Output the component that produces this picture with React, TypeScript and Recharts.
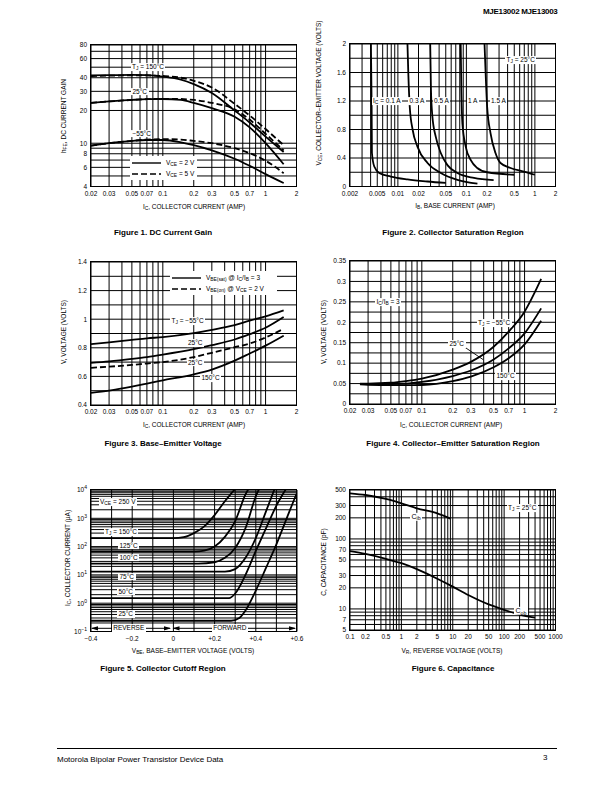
import React from 'react';
import { LineChart, Line, XAxis, YAxis, CartesianGrid } from 'recharts';

const FONT = '"Liberation Sans", Arial, Helvetica, sans-serif';

// Figure 1 - DC current gain (hFE vs IC)
const gainIc = [0.02, 0.03, 0.05, 0.07, 0.1, 0.15, 0.2, 0.3, 0.5, 0.7, 1, 1.5];
const gain150Vce2 = [42, 42.2, 42.5, 42.2, 41, 38.5, 35, 29, 20, 15.5, 11.5, 8.3];
const gain150Vce5 = [41.5, 41.8, 42, 42, 41.5, 40, 37.5, 32.5, 23, 18, 13.5, 9.6];
const gain25Vce2 = [23.5, 24.2, 25, 25.4, 25.5, 25, 23.5, 21, 17.5, 14, 10, 6.4];
const gain25Vce5 = [23.5, 24.2, 25, 25.4, 25.6, 25.5, 25, 23.5, 20.5, 16.5, 12.2, 8.6];
const gainM55Vce2 = [9.5, 10, 10.5, 10.7, 10.7, 10.2, 9.6, 8.6, 7.2, 6.2, 5.2, 4.3];
const gainM55Vce5 = [9.5, 10, 10.5, 10.8, 10.9, 10.8, 10.5, 10, 9, 8.1, 6.9, 5.3];
const icLabels = [0.02, 0.03, 0.05, 0.07, 0.1, 0.2, 0.3, 0.5, 0.7, 1, 2];
const gainLabels = [4, 6, 8, 10, 20, 30, 40, 60, 80];

// Figure 2 - collector saturation region (VCE vs IB)
const sat01Ib = [0.00404, 0.00414, 0.00418, 0.00452, 0.00534, 0.00789, 0.0138, 0.0271, 0.05];
const sat01Vce = [2.0, 1.12, 0.47, 0.28, 0.19, 0.14, 0.1, 0.07, 0.05];
const sat03Ib = [0.0138, 0.0142, 0.0149, 0.0164, 0.0193, 0.0271, 0.0423, 0.0739, 0.145];
const sat03Vce = [2.0, 1.59, 1.12, 0.8, 0.56, 0.33, 0.19, 0.094, 0.04];
const sat05Ib = [0.0296, 0.0304, 0.0319, 0.0357, 0.0423, 0.0529, 0.0739, 0.129, 0.25];
const sat05Vce = [2.0, 1.36, 0.98, 0.7, 0.47, 0.3, 0.19, 0.12, 0.09];
const sat1Ib = [0.0826, 0.0845, 0.0874, 0.0978, 0.116, 0.144, 0.201, 0.5];
const sat1Vce = [2.0, 1.36, 0.89, 0.56, 0.37, 0.26, 0.2, 0.165];
const sat15Ib = [0.184, 0.191, 0.201, 0.225, 0.266, 0.315, 0.442, 0.69, 1.0];
const sat15Vce = [2.0, 1.59, 1.12, 0.75, 0.47, 0.33, 0.26, 0.21, 0.165];
const ibLabels = [0.002, 0.005, 0.01, 0.02, 0.05, 0.1, 0.2, 0.5, 1, 2];
const vceLabels = [0, 0.4, 0.8, 1.2, 1.6, 2];

// Figure 3 - base-emitter voltage
const vbeIc = [0.02, 0.03, 0.05, 0.07, 0.1, 0.2, 0.3, 0.5, 0.7, 1, 1.5];
const vbeSatM55 = [0.825, 0.838, 0.855, 0.866, 0.875, 0.903, 0.925, 0.958, 0.99, 1.02, 1.062];
const vbeSat25 = [0.695, 0.705, 0.722, 0.735, 0.752, 0.79, 0.818, 0.858, 0.895, 0.94, 1.015];
const vbeOn25 = [0.66, 0.668, 0.68, 0.69, 0.7, 0.735, 0.765, 0.804, 0.83, 0.872, 0.933];
const vbeSat150 = [0.485, 0.5, 0.528, 0.55, 0.572, 0.615, 0.648, 0.71, 0.76, 0.815, 0.885];
const vbeLabels = [0.4, 0.6, 0.8, 1, 1.2, 1.4];

// Figure 4 - collector-emitter saturation
const vceIc = [0.025, 0.03, 0.05, 0.07, 0.1, 0.2, 0.3, 0.5, 0.7, 1, 1.45];
const vceSatM55 = [0.05, 0.05, 0.052, 0.056, 0.062, 0.084, 0.103, 0.14, 0.177, 0.226, 0.306];
const vceSat25 = [0.049, 0.049, 0.049, 0.05, 0.054, 0.0685, 0.082, 0.109, 0.136, 0.173, 0.234];
const vceSat150 = [0.048, 0.047, 0.046, 0.046, 0.0465, 0.056, 0.067, 0.09, 0.112, 0.146, 0.204];
const vceSatLabels = [0, 0.05, 0.1, 0.15, 0.2, 0.25, 0.3, 0.35];

// Figure 5 - collector cutoff region (IC in uA vs VBE)
const cut150V = [-0.4, 0, 0.05, 0.1, 0.15, 0.2, 0.25, 0.3];
const cut150I = [200, 200, 215, 300, 520, 1300, 4000, 11000];
const cut125V = [-0.4, 0.1, 0.15, 0.2, 0.25, 0.3, 0.35, 0.4];
const cut125I = [66, 66, 72, 100, 220, 800, 7000, 25000];
const cut100V = [-0.4, 0.12, 0.2, 0.25, 0.3, 0.35, 0.4, 0.45];
const cut100I = [25, 25, 28, 40, 90, 450, 6000, 30000];
const cut75V = [-0.4, 0.25, 0.3, 0.35, 0.4, 0.45, 0.5];
const cut75I = [13, 13, 16, 40, 200, 1800, 16000];
const cut50V = [-0.4, 0.27, 0.3, 0.35, 0.4, 0.45, 0.5, 0.55, 0.6];
const cut50I = [1.5, 1.5, 2.2, 10, 70, 450, 2800, 12000, 50000];
const cut25V = [-0.4, 0.28, 0.32, 0.35, 0.4, 0.45, 0.5, 0.55, 0.6, 0.65];
const cut25I = [0.24, 0.24, 0.3, 0.55, 2.8, 18, 120, 1000, 8000, 50000];
const vbeAxisLabels = [-0.4, -0.2, 0, 0.2, 0.4, 0.6];
const cutLabels = [0.1, 1, 10, 100, 1000, 10000];

// Figure 6 - capacitance
const capCibV = [0.1, 0.2, 0.5, 1, 2, 5, 9];
const capCib = [448, 424, 372, 323, 274, 232, 195];
const capCobV = [0.1, 0.2, 0.5, 1, 2, 5, 10, 20, 50, 100, 200, 400];
const capCob = [67, 61, 52, 45, 37, 27, 20.8, 15.8, 11.6, 9.7, 8.3, 7.5];
const vrLabels = [0.1, 0.2, 0.5, 1, 2, 5, 10, 20, 50, 100, 200, 500, 1000];
const capLabels = [5, 7, 10, 20, 30, 50, 70, 100, 200, 300, 500];

type Pt = { x: number; y: number };
const pts = (xs: number[], ys: number[]): Pt[] => xs.map((x, i) => ({ x, y: ys[i] }));

// gridline helpers (1..9 per decade / fixed step)
const logGrid = (lo: number, hi: number) => {
  const out: number[] = [];
  for (let d = Math.floor(Math.log10(lo)); d <= Math.ceil(Math.log10(hi)); d++) {
    for (let m = 1; m < 10; m++) {
      const v = +(m * Math.pow(10, d)).toPrecision(6);
      if (v >= lo * 0.999 && v <= hi * 1.001) out.push(v);
    }
  }
  return out;
};
const linGrid = (lo: number, hi: number, step: number) => {
  const out: number[] = [];
  for (let v = lo; v <= hi + step / 2; v += step) out.push(+v.toFixed(6));
  return out;
};
const has = (list: number[], v: number) => list.some((l) => Math.abs(l - v) <= Math.abs(l) * 1e-6 + 1e-9);
const plain = (v: number) => String(v);

const L = 40, T = 6, R = 10, B = 20;

function Panel(props: any) {
  const { box, xLog, yLog, xDomain, yDomain, xGrid, yGrid, xLabels, yLabels, xFmt = plain, yFmt = plain, ySuper, curves } = props;
  const xTick = (p: any) => {
    const v = p.payload.value;
    if (!has(xLabels, v)) return <g />;
    return (
      <text x={p.x} y={p.y} dy={9.3} textAnchor="middle" fontSize={6.5} fontFamily={FONT} fill="#000">
        {xFmt(v)}
      </text>
    );
  };
  const yTick = (p: any) => {
    const v = p.payload.value;
    if (!has(yLabels, v)) return <g />;
    if (ySuper) {
      const e = Math.round(Math.log10(v));
      return (
        <text x={p.x - 4} y={p.y} dy={2.3} textAnchor="end" fontSize={6.5} fontFamily={FONT} fill="#000">
          10<tspan dy={-3} fontSize={5}>{e < 0 ? '\u2212' + -e : e}</tspan>
        </text>
      );
    }
    return (
      <text x={p.x - 4} y={p.y} dy={2.3} textAnchor="end" fontSize={6.5} fontFamily={FONT} fill="#000">
        {yFmt(v)}
      </text>
    );
  };
  return (
    <div style={{ position: 'absolute', left: box.x - L, top: box.y - T }}>
      <LineChart width={box.w + L + R} height={box.h + T + B} margin={{ top: T, right: R, bottom: 0, left: 0 }}>
        <CartesianGrid stroke="#000" strokeWidth={1} />
        <XAxis
          type="number"
          dataKey="x"
          scale={xLog ? 'log' : 'linear'}
          domain={xDomain}
          allowDataOverflow
          ticks={xGrid}
          interval={0}
          height={B}
          tickSize={0}
          tickMargin={0}
          axisLine={false}
          tickLine={false}
          tick={xTick}
        />
        <YAxis
          type="number"
          dataKey="y"
          scale={yLog ? 'log' : 'linear'}
          domain={yDomain}
          allowDataOverflow
          ticks={yGrid}
          interval={0}
          width={L}
          tickSize={0}
          tickMargin={0}
          axisLine={false}
          tickLine={false}
          tick={yTick}
        />
        {curves.map((c: any, i: number) => (
          <Line
            key={i}
            data={c.pts}
            dataKey="y"
            type="monotone"
            stroke="#000"
            strokeWidth={1.8}
            strokeDasharray={c.dash ? '6 3' : undefined}
            dot={false}
            activeDot={false}
            isAnimationActive={false}
          />
        ))}
      </LineChart>
      <div
        style={{
          position: 'absolute',
          left: L - 0.7,
          top: T - 0.7,
          width: box.w + 1.4,
          height: box.h + 1.4,
          border: '1.4px solid #000',
          boxSizing: 'border-box',
          pointerEvents: 'none',
        }}
      />
    </div>
  );
}

const Sub = ({ children }: any) => (
  <span style={{ fontSize: '0.75em', position: 'relative', top: '0.3em' }}>{children}</span>
);

const Tag = ({ x, y, children, size = 6.5 }: any) => (
  <div
    style={{
      position: 'absolute',
      left: x,
      top: y,
      transform: 'translateY(-50%)',
      background: '#fff',
      fontSize: size,
      lineHeight: 1.2,
      padding: '0 1.5px',
      whiteSpace: 'nowrap',
    }}
  >
    {children}
  </div>
);

const HTitle = ({ x, y, children }: any) => (
  <div style={{ position: 'absolute', left: x, top: y, transform: 'translate(-50%,-50%)', fontSize: 6.5, whiteSpace: 'nowrap' }}>
    {children}
  </div>
);

const VTitle = ({ x, y, children }: any) => (
  <div
    style={{
      position: 'absolute',
      left: x,
      top: y,
      transform: 'translate(-50%,-50%) rotate(-90deg)',
      fontSize: 6.5,
      whiteSpace: 'nowrap',
    }}
  >
    {children}
  </div>
);

const Caption = ({ x, y, children }: any) => (
  <div
    style={{
      position: 'absolute',
      left: x,
      top: y,
      transform: 'translate(-50%,-50%)',
      fontSize: 8,
      fontWeight: 'bold',
      whiteSpace: 'nowrap',
    }}
  >
    {children}
  </div>
);

const LegendBox = ({ x, y, w, rows }: any) => (
  <div style={{ position: 'absolute', left: x, top: y, width: w, background: '#fff', padding: '1px 0' }}>
    {rows.map((r: any, i: number) => (
      <div key={i} style={{ display: 'flex', alignItems: 'center', height: 11, fontSize: 6.5, whiteSpace: 'nowrap' }}>
        <svg width={30} height={6} style={{ marginLeft: 2, marginRight: 4 }}>
          <line x1={0} y1={3} x2={29} y2={3} stroke="#000" strokeWidth={1.4} strokeDasharray={r.dash ? '6 3' : undefined} />
        </svg>
        {r.label}
      </div>
    ))}
  </div>
);

export default function App() {
  const p1 = { x: 90.5, y: 45, w: 205.5, h: 141.5 };
  const p2 = { x: 349.5, y: 44, w: 205.5, h: 142.5 };
  const p3 = { x: 90.5, y: 262, w: 205.5, h: 143 };
  const p4 = { x: 349.5, y: 261, w: 205.5, h: 143 };
  const p5 = { x: 90.5, y: 490, w: 206, h: 141.5 };
  const p6 = { x: 349.5, y: 490, w: 205.5, h: 140 };

  return (
    <div
      style={{
        position: 'absolute',
        left: 0,
        top: 0,
        width: 612,
        height: 792,
        background: '#fff',
        fontFamily: FONT,
        color: '#000',
        overflow: 'hidden',
      }}
    >
      <div style={{ position: 'absolute', left: 483, top: 7, fontSize: 8, fontWeight: 'bold', letterSpacing: -0.3 }}>
        MJE13002 MJE13003
      </div>

      {/* Figure 1 */}
      <Panel
        box={p1}
        xLog
        yLog
        xDomain={[0.02, 2]}
        yDomain={[4, 80]}
        xGrid={logGrid(0.02, 2)}
        yGrid={logGrid(4, 80)}
        xLabels={icLabels}
        yLabels={gainLabels}
        curves={[
          { pts: pts(gainIc, gain150Vce2) },
          { pts: pts(gainIc, gain150Vce5), dash: true },
          { pts: pts(gainIc, gain25Vce2) },
          { pts: pts(gainIc, gain25Vce5), dash: true },
          { pts: pts(gainIc, gainM55Vce2) },
          { pts: pts(gainIc, gainM55Vce5), dash: true },
        ]}
      />
      <Tag x={130.5} y={66.7}>T<Sub>J</Sub> = 150°C</Tag>
      <Tag x={131} y={91.5}>25°C</Tag>
      <Tag x={131} y={133.5}>−55°C</Tag>
      <LegendBox
        x={130}
        y={156}
        w={67}
        rows={[
          { label: <span>V<Sub>CE</Sub> = 2 V</span> },
          { label: <span>V<Sub>CE</Sub> = 5 V</span>, dash: true },
        ]}
      />
      <VTitle x={63} y={116}>h<Sub>FE</Sub>, DC CURRENT GAIN</VTitle>
      <HTitle x={194} y={206}>I<Sub>C</Sub>, COLLECTOR CURRENT (AMP)</HTitle>
      <Caption x={163} y={232}>Figure 1. DC Current Gain</Caption>

      {/* Figure 2 */}
      <Panel
        box={p2}
        xLog
        xDomain={[0.002, 2]}
        yDomain={[0, 2]}
        xGrid={logGrid(0.002, 2)}
        yGrid={linGrid(0, 2, 0.2)}
        xLabels={ibLabels}
        yLabels={vceLabels}
        curves={[
          { pts: pts(sat01Ib, sat01Vce) },
          { pts: pts(sat03Ib, sat03Vce) },
          { pts: pts(sat05Ib, sat05Vce) },
          { pts: pts(sat1Ib, sat1Vce) },
          { pts: pts(sat15Ib, sat15Vce) },
        ]}
      />
      <Tag x={505} y={60}>T<Sub>J</Sub> = 25°C</Tag>
      <Tag x={371.5} y={101}>I<Sub>C</Sub> = 0.1 A</Tag>
      <Tag x={408} y={101}>0.3 A</Tag>
      <Tag x={432.5} y={101}>0.5 A</Tag>
      <Tag x={466.5} y={101}>1 A</Tag>
      <Tag x={489.5} y={101}>1.5 A</Tag>
      <VTitle x={318} y={93}>V<Sub>CE</Sub>, COLLECTOR–EMITTER VOLTAGE (VOLTS)</VTitle>
      <HTitle x={455} y={205}>I<Sub>B</Sub>, BASE CURRENT (AMP)</HTitle>
      <Caption x={453} y={232}>Figure 2. Collector Saturation Region</Caption>

      {/* Figure 3 */}
      <Panel
        box={p3}
        xLog
        xDomain={[0.02, 2]}
        yDomain={[0.4, 1.4]}
        xGrid={logGrid(0.02, 2)}
        yGrid={linGrid(0.4, 1.4, 0.1)}
        xLabels={icLabels}
        yLabels={vbeLabels}
        curves={[
          { pts: pts(vbeIc, vbeSatM55) },
          { pts: pts(vbeIc, vbeSat25) },
          { pts: pts(vbeIc, vbeOn25), dash: true },
          { pts: pts(vbeIc, vbeSat150) },
        ]}
      />
      <LegendBox
        x={170}
        y={271}
        w={107}
        rows={[
          { label: <span>V<Sub>BE(sat)</Sub> @ I<Sub>C</Sub>/I<Sub>B</Sub> = 3</span> },
          { label: <span>V<Sub>BE(on)</Sub> @ V<Sub>CE</Sub> = 2 V</span>, dash: true },
        ]}
      />
      <Tag x={170} y={320.7}>T<Sub>J</Sub> = −55°C</Tag>
      <Tag x={186.5} y={343.3}>25°C</Tag>
      <Tag x={186.5} y={362.7}>25°C</Tag>
      <Tag x={200} y={378.3}>150°C</Tag>
      <VTitle x={63} y={332}>V, VOLTAGE (VOLTS)</VTitle>
      <HTitle x={194} y={424}>I<Sub>C</Sub>, COLLECTOR CURRENT (AMP)</HTitle>
      <Caption x={163} y={443}>Figure 3. Base–Emitter Voltage</Caption>

      {/* Figure 4 */}
      <Panel
        box={p4}
        xLog
        xDomain={[0.02, 2]}
        yDomain={[0, 0.35]}
        xGrid={logGrid(0.02, 2)}
        yGrid={linGrid(0, 0.35, 0.025)}
        xLabels={icLabels}
        yLabels={vceSatLabels}
        curves={[
          { pts: pts(vceIc, vceSatM55) },
          { pts: pts(vceIc, vceSat25) },
          { pts: pts(vceIc, vceSat150) },
        ]}
      />
      <svg width={612} height={792} style={{ position: 'absolute', left: 0, top: 0, pointerEvents: 'none' }}>
        <line x1={463} y1={346} x2={483} y2={359.5} stroke="#000" strokeWidth={0.9} />
        <line x1={92} y1={628.3} x2={170} y2={628.3} stroke="#000" strokeWidth={1} />
        <polygon points="91,628.3 98,626.2 98,630.4" fill="#000" />
        <polygon points="171,628.3 164,626.2 164,630.4" fill="#000" />
        <line x1={173} y1={628.3} x2={295} y2={628.3} stroke="#000" strokeWidth={1} />
        <polygon points="172.5,628.3 179.5,626.2 179.5,630.4" fill="#000" />
        <polygon points="296,628.3 289,626.2 289,630.4" fill="#000" />
      </svg>
      <Tag x={375} y={301.7}>I<Sub>C</Sub>/I<Sub>B</Sub> = 3</Tag>
      <Tag x={476.5} y={322.7}>T<Sub>J</Sub> = −55°C</Tag>
      <Tag x={448} y={344}>25°C</Tag>
      <Tag x={495} y={376}>150°C</Tag>
      <VTitle x={322.5} y={332}>V, VOLTAGE (VOLTS)</VTitle>
      <HTitle x={451} y={424}>I<Sub>C</Sub>, COLLECTOR CURRENT (AMP)</HTitle>
      <Caption x={453} y={443}>Figure 4. Collector–Emitter Saturation Region</Caption>

      {/* Figure 5 */}
      <Panel
        box={p5}
        yLog
        ySuper
        xDomain={[-0.4, 0.6]}
        yDomain={[0.1, 10000]}
        xGrid={linGrid(-0.4, 0.6, 0.1)}
        yGrid={logGrid(0.1, 10000)}
        xLabels={vbeAxisLabels}
        yLabels={cutLabels}
        xFmt={(v: number) => (v === 0 ? '0' : v < 0 ? '\u2212' + -v : '+' + v)}
        curves={[
          { pts: pts(cut150V, cut150I) },
          { pts: pts(cut125V, cut125I) },
          { pts: pts(cut100V, cut100I) },
          { pts: pts(cut75V, cut75I) },
          { pts: pts(cut50V, cut50I) },
          { pts: pts(cut25V, cut25I) },
        ]}
      />
      <Tag x={98.5} y={501.7}>V<Sub>CE</Sub> = 250 V</Tag>
      <Tag x={103.5} y={531.7}>T<Sub>J</Sub> = 150°C</Tag>
      <Tag x={118} y={545.7}>125°C</Tag>
      <Tag x={118} y={557.7}>100°C</Tag>
      <Tag x={118} y={576.7}>75°C</Tag>
      <Tag x={117} y={591.7}>50°C</Tag>
      <Tag x={117} y={614.3}>25°C</Tag>
      <Tag x={111.7} y={628.3}>REVERSE</Tag>
      <Tag x={211.7} y={628.3}>FORWARD</Tag>
      <VTitle x={66.5} y={558}>I<Sub>C</Sub>, COLLECTOR CURRENT (μA)</VTitle>
      <HTitle x={193} y={650}>V<Sub>BE</Sub>, BASE–EMITTER VOLTAGE (VOLTS)</HTitle>
      <Caption x={163} y={668}>Figure 5. Collector Cutoff Region</Caption>

      {/* Figure 6 */}
      <Panel
        box={p6}
        xLog
        yLog
        xDomain={[0.1, 1000]}
        yDomain={[5, 500]}
        xGrid={logGrid(0.1, 1000)}
        yGrid={logGrid(5, 500)}
        xLabels={vrLabels}
        yLabels={capLabels}
        curves={[{ pts: pts(capCibV, capCib) }, { pts: pts(capCobV, capCob) }]}
      />
      <Tag x={506.5} y={507.7}>T<Sub>J</Sub> = 25°C</Tag>
      <Tag x={410} y={516.7} size={7}>C<Sub>ib</Sub></Tag>
      <Tag x={514} y={611} size={7}>C<Sub>ob</Sub></Tag>
      <VTitle x={322.5} y={562}>C, CAPACITANCE (pF)</VTitle>
      <HTitle x={452} y={650}>V<Sub>R</Sub>, REVERSE VOLTAGE (VOLTS)</HTitle>
      <Caption x={453} y={668}>Figure 6. Capacitance</Caption>

      <div style={{ position: 'absolute', left: 57, top: 748, width: 500, borderTop: '1px solid #000' }} />
      <div style={{ position: 'absolute', left: 57, top: 755, fontSize: 8 }}>Motorola Bipolar Power Transistor Device Data</div>
      <div style={{ position: 'absolute', left: 543, top: 753, fontSize: 8 }}>3</div>
    </div>
  );
}
